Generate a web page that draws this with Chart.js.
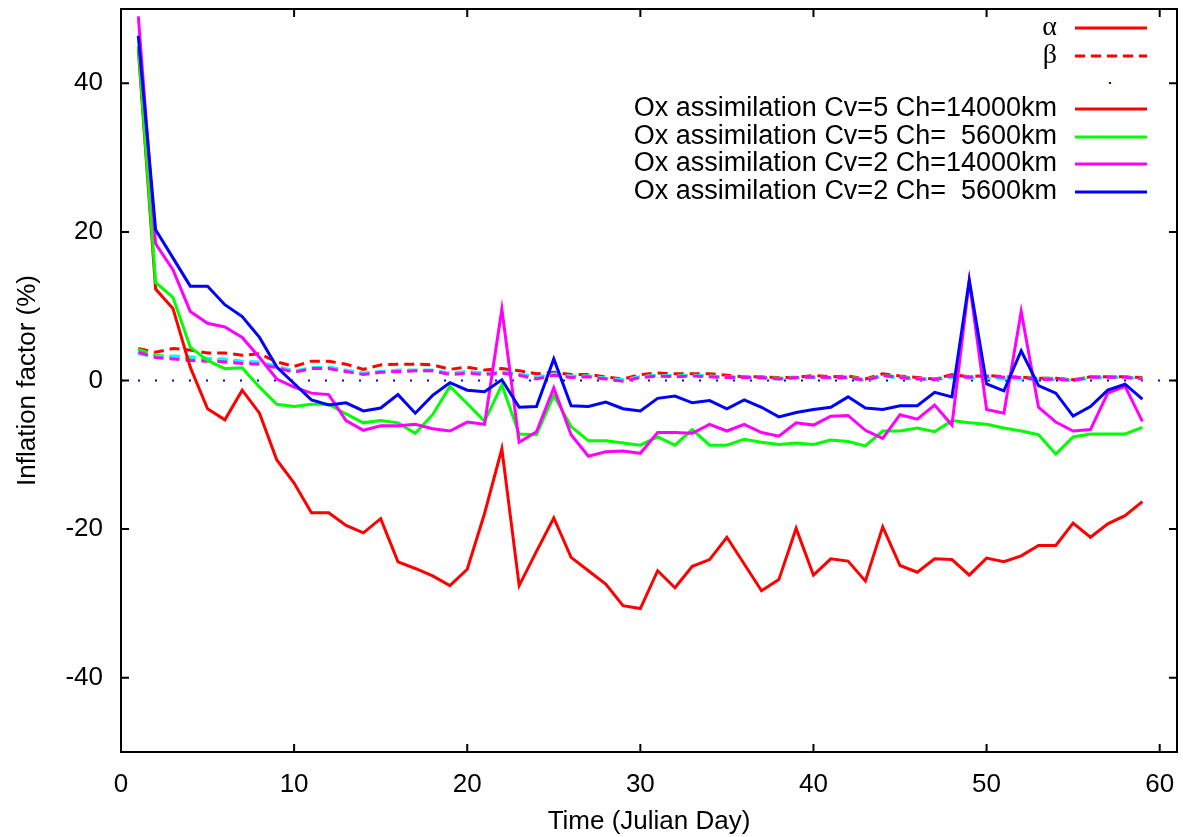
<!DOCTYPE html>
<html><head><meta charset="utf-8">
<script src="https://cdn.jsdelivr.net/npm/chart.js@4.4.1/dist/chart.umd.min.js"></script>
<style>html,body{margin:0;padding:0;background:#fff;}canvas{display:block;}</style>
</head><body>
<div style="width:1183px;height:837px;"><canvas id="c" width="1183" height="837"></canvas></div>
<script>
const days = [1,2,3,4,5,6,7,8,9,10,11,12,13,14,15,16,17,18,19,20,21,22,23,24,25,26,27,28,29,30,31,32,33,34,35,36,37,38,39,40,41,42,43,44,45,46,47,48,49,50,51,52,53,54,55,56,57,58,59];
const xTicks = [0,10,20,30,40,50,60];
const yTicks = [-40,-20,0,20,40];

const alphaCv5Ch14000 = [44.5,12.3,9.7,1.8,-3.8,-5.3,-1.3,-4.4,-10.7,-13.8,
 -17.8,-17.8,-19.5,-20.5,-18.6,-24.4,-25.3,-26.3,-27.6,-25.4,
 -17.9,-9.2,-27.6,-23.0,-18.5,-23.8,-25.6,-27.4,-30.3,-30.7,
 -25.6,-27.9,-25.0,-24.1,-21.1,-24.7,-28.3,-26.8,-19.9,-26.2,
 -24.0,-24.3,-27.0,-19.7,-24.9,-25.8,-24.0,-24.1,-26.2,-23.9,
 -24.4,-23.6,-22.2,-22.2,-19.2,-21.1,-19.3,-18.2,-16.3];
const alphaCv5Ch5600 = [45.0,13.2,11.2,4.5,2.7,1.6,1.7,-0.9,-3.2,-3.5,
 -3.2,-3.2,-4.5,-5.7,-5.4,-5.7,-7.1,-4.6,-0.8,-3.1,
 -5.5,-0.6,-7.2,-7.3,-2.0,-6.2,-8.1,-8.1,-8.4,-8.7,
 -7.6,-8.7,-6.6,-8.7,-8.7,-7.9,-8.3,-8.6,-8.4,-8.6,
 -8.0,-8.2,-8.8,-6.8,-6.8,-6.4,-6.9,-5.4,-5.7,-5.9,
 -6.4,-6.8,-7.3,-9.9,-7.6,-7.2,-7.2,-7.2,-6.3];
const alphaCv2Ch14000 = [49.0,18.4,14.9,9.3,7.7,7.2,5.8,3.1,0.2,-0.9,
 -1.7,-1.9,-5.4,-6.7,-6.1,-6.1,-5.9,-6.5,-6.8,-5.6,
 -5.9,9.6,-8.3,-6.9,-1.0,-7.3,-10.2,-9.6,-9.5,-9.8,
 -7.0,-7.0,-7.1,-5.9,-6.8,-5.9,-7.0,-7.5,-5.7,-6.0,
 -4.8,-4.7,-6.7,-7.8,-4.6,-5.2,-3.3,-6.0,13.4,-3.9,
 -4.4,9.3,-3.6,-5.6,-6.8,-6.6,-1.7,-0.8,-5.5];
const alphaCv2Ch5600 = [46.4,20.3,16.5,12.7,12.7,10.2,8.6,5.8,1.8,-0.4,
 -2.6,-3.3,-3.0,-4.1,-3.7,-1.9,-4.4,-2.0,-0.3,-1.3,
 -1.5,0.1,-3.6,-3.5,2.9,-3.4,-3.5,-2.9,-3.8,-4.1,
 -2.4,-2.1,-3.0,-2.7,-3.8,-2.6,-3.6,-4.9,-4.3,-3.9,
 -3.6,-2.2,-3.7,-3.9,-3.4,-3.4,-1.6,-2.2,13.5,-0.45,
 -1.4,4.0,-0.7,-1.7,-4.8,-3.5,-1.3,-0.5,-2.5];

const betaRed = [4.3,3.8,4.3,4.1,3.7,3.7,3.4,3.6,2.5,1.9,
 2.6,2.6,2.2,1.5,2.1,2.2,2.2,2.1,1.5,1.8,
 1.4,1.6,1.3,0.9,1.1,0.8,0.8,0.5,0.2,0.8,
 1.0,0.9,0.9,0.9,0.7,0.5,0.5,0.4,0.45,0.67,
 0.5,0.6,0.2,0.9,0.6,0.4,0.2,0.8,0.5,0.7,
 0.5,0.45,0.3,0.3,0.1,0.5,0.5,0.5,0.4];
const betaGreen = [4.2,3.4,3.2,3.0,2.8,2.7,2.5,2.3,1.8,1.2,
 1.7,1.7,1.3,0.9,1.2,1.3,1.3,1.3,0.9,1.2,
 0.9,1.1,0.8,0.4,0.8,0.5,0.6,0.3,0.0,0.5,
 0.7,0.6,0.7,0.6,0.5,0.5,0.5,0.3,0.4,0.5,
 0.4,0.5,0.1,0.7,0.5,0.3,0.2,0.6,0.5,0.5,
 0.4,0.4,0.3,0.3,0.1,0.5,0.5,0.5,0.3];
const betaCyan = [3.6,3.2,3.3,3.2,3.0,2.9,2.6,2.5,1.9,1.3,
 1.7,1.8,1.4,1.0,1.2,1.4,1.4,1.4,1.0,1.2,
 1.0,1.2,0.9,0.5,0.9,0.6,0.6,0.3,0.1,0.5,
 0.7,0.6,0.7,0.6,0.4,0.4,0.3,0.2,0.3,0.4,
 0.3,0.3,0.0,0.6,0.3,0.2,0.1,0.4,0.3,0.3,
 0.2,0.2,0.1,0.1,0.0,0.3,0.4,0.4,0.2];
const betaMagenta = [3.8,3.1,2.9,2.7,2.6,2.5,2.3,2.2,1.7,1.1,
 1.6,1.6,1.2,0.8,1.1,1.2,1.3,1.3,0.8,1.0,
 0.8,1.0,0.7,0.2,0.7,0.4,0.5,0.2,-0.1,0.4,
 0.6,0.5,0.6,0.5,0.4,0.4,0.4,0.2,0.4,0.45,
 0.4,0.4,0.0,0.7,0.4,0.2,0.1,0.6,0.45,0.6,
 0.45,0.4,0.1,0.2,0.0,0.45,0.45,0.45,0.2];
const zeroLine = [0,0];
const zeroLineX = [0,61];

const legendLabels = ['\u03b1','\u03b2','',
 'Ox assimilation Cv=5 Ch=14000km',
 'Ox assimilation Cv=5 Ch=  5600km',
 'Ox assimilation Cv=2 Ch=14000km',
 'Ox assimilation Cv=2 Ch=  5600km'];

const RED='#ff0000', GREEN='#00ff00', MAG='#ff00ff', BLUE='#0000ff', CYAN='#00ffff';
const FONT = '"Liberation Sans", Arial, Helvetica, sans-serif';

function pts(arr){ return days.map((d,i)=>({x:d,y:arr[i]})); }
function solid(label,arr,color,order){ return {label,data:pts(arr),borderColor:color,borderWidth:3,pointRadius:0,tension:0,fill:false,order}; }
function dashed(label,arr,color,order){ return {label,data:pts(arr),borderColor:color,borderWidth:3,borderDash:[10,6],pointRadius:0,tension:0,fill:false,order}; }

const datasets = [
  {label:'zero',data:zeroLineX.map((x,i)=>({x,y:zeroLine[i]})),borderColor:BLUE,borderWidth:2,borderDash:[2,15],borderCapStyle:'butt',pointRadius:0,fill:false,order:20},
  dashed('beta red',betaRed,RED,15),
  dashed('beta green',betaGreen,GREEN,14),
  dashed('beta cyan',betaCyan,CYAN,13),
  dashed('beta magenta',betaMagenta,MAG,12),
  solid(legendLabels[3],alphaCv5Ch14000,RED,4),
  solid(legendLabels[4],alphaCv5Ch5600,GREEN,3),
  solid(legendLabels[5],alphaCv2Ch14000,MAG,2),
  solid(legendLabels[6],alphaCv2Ch5600,BLUE,1)
];

const framePlugin = {
  id:'frame',
  afterDatasetsDraw(chart){
    const ctx = chart.ctx, a = chart.chartArea;
    const xs = chart.scales.x, ys = chart.scales.y;
    ctx.save();
    ctx.strokeStyle='#000'; ctx.lineWidth=2;
    ctx.strokeRect(a.left, a.top, a.right-a.left, a.bottom-a.top);
    ctx.beginPath();
    const tl = 8;
    yTicks.forEach(v=>{ const p = ys.getPixelForValue(v);
      ctx.moveTo(a.left,p); ctx.lineTo(a.left+tl,p);
      ctx.moveTo(a.right,p); ctx.lineTo(a.right-tl,p); });
    xTicks.forEach(v=>{ const p = xs.getPixelForValue(v);
      ctx.moveTo(p,a.bottom); ctx.lineTo(p,a.bottom-tl);
      ctx.moveTo(p,a.top); ctx.lineTo(p,a.top+tl); });
    ctx.stroke();
    // legend
    const textRight = 1057, sx1 = 1075, sx2 = 1147;
    const rows = [28,56,83,109,137,164,192];
    const sampleColors = [RED,RED,BLUE,RED,GREEN,MAG,BLUE];
    ctx.textAlign='right'; ctx.textBaseline='middle'; ctx.fillStyle='#000';
    legendLabels.forEach((t,i)=>{
      const y = rows[i];
      if(i<2){ ctx.font = '28px "Liberation Serif", "Times New Roman", serif'; }
      else { ctx.font = '27px ' + FONT; }
      if(t) ctx.fillText(t, textRight, y);
      ctx.strokeStyle = sampleColors[i]; ctx.lineWidth = 3;
      if(i===2){ ctx.fillStyle=BLUE; ctx.fillRect(1109,y-1,2,2); ctx.fillStyle='#000'; return; }
      ctx.setLineDash(i===1?[10,6]:[]);
      ctx.beginPath(); ctx.moveTo(sx1,y); ctx.lineTo(sx2,y); ctx.stroke();
      ctx.setLineDash([]);
    });
    ctx.restore();
  }
};

new Chart(document.getElementById('c'), {
  type:'line',
  data:{datasets},
  options:{
    responsive:false, animation:false, events:[],
    layout:{padding:{top:9,right:6,left:0,bottom:0}},
    plugins:{legend:{display:false},tooltip:{enabled:false}},
    scales:{
      x:{type:'linear',min:0,max:61,
        grid:{display:false,drawTicks:false},border:{display:false},
        afterBuildTicks(s){ s.ticks = xTicks.map(v=>({value:v})); },
        afterFit(s){ s.height = 85; s.paddingLeft = 0; s.paddingRight = 0; },
        ticks:{color:'#000',font:{family:FONT,size:26},padding:17,maxRotation:0,autoSkip:false},
        title:{display:true,text:'Time (Julian Day)',color:'#000',font:{family:FONT,size:26},padding:{top:0,bottom:0}}
      },
      y:{type:'linear',min:-50,max:50,
        grid:{display:false,drawTicks:false},border:{display:false},
        afterBuildTicks(s){ s.ticks = yTicks.map(v=>({value:v})); },
        afterFit(s){ s.width = 121; s.paddingTop = 0; s.paddingBottom = 0; },
        ticks:{color:'#000',font:{family:FONT,size:26},padding:18},
        title:{display:true,text:'Inflation factor (%)',color:'#000',font:{family:FONT,size:26},padding:{top:12,bottom:0}}
      }
    }
  },
  plugins:[framePlugin]
});
</script>
</body></html>
